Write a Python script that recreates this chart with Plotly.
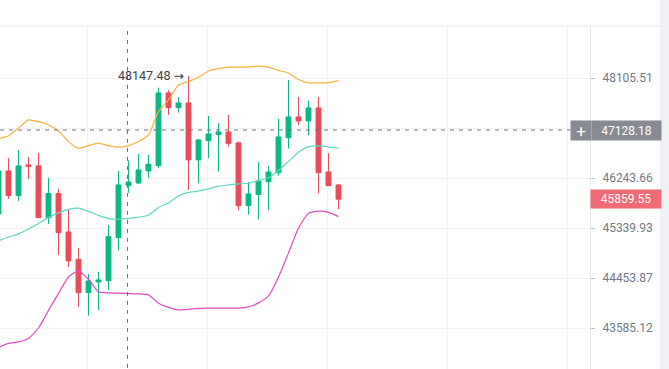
import math
import plotly.graph_objects as go

# ---- data (BTC-like candles, Bollinger bands) ----
opens = [45593, 46373, 45924, 46483, 46465, 45526, 45960, 45269, 44782, 44198, 44384, 44407,
         45168, 46108, 46153, 46373, 46470, 47823, 47547, 47635, 46575, 46931, 47042, 47092,
         46889, 45743, 45942, 46177, 46341, 46986, 47372, 47297, 47541, 46354, 46117]
highs = [46428, 46612, 46760, 46631, 46704, 46244, 46045, 45665, 44985, 44525, 44560, 45394,
         46373, 46566, 46686, 46668, 47923, 47874, 47743, 48147.48, 46962, 47391, 47254, 47410,
         46917, 46171, 46533, 46465, 47335, 48068, 47748, 47679, 47748, 46699, 46135]
lows = [45539, 45864, 45828, 46226, 45520, 45412, 44861, 44649, 43950, 43799, 43898, 44245,
        44938, 45973, 46135, 46249, 46422, 47410, 47453, 46027, 46148, 46607, 46360, 46821,
        45656, 45580, 45493, 45665, 46286, 46784, 47222, 47031, 45963, 46099, 45678]
closes = [46373, 45924, 46465, 46456, 45526, 45960, 45257, 44755, 44198, 44402, 44419, 45186,
          46117, 46171, 46391, 46496, 47823, 47547, 47635, 46575, 46944, 47055, 47092, 46880,
          45743, 45954, 46189, 46354, 46999, 47372, 47297, 47541, 46341, 46104, 45859.55]
boll_upper = [46963, 47023, 47165, 47316, 47284, 47222, 47110, 46913, 46791, 46839, 46883, 46839,
              46810, 46839, 46913, 47036, 47472, 47692, 47974, 48036, 48119, 48240, 48284, 48311,
              48311, 48317, 48330, 48311, 48249, 48201, 48077, 48012, 48012, 48017, 48055]
boll_mid = [45110, 45180, 45234, 45322, 45421, 45530, 45611, 45674, 45696, 45638, 45566, 45508,
            45498, 45512, 45535, 45570, 45710, 45792, 45918, 45982, 46005, 46045, 46094, 46117,
            46135, 46148, 46195, 46249, 46382, 46548, 46717, 46821, 46833, 46815, 46791]
boll_lower = [43253, 43321, 43347, 43406, 43585, 43889, 44185, 44472, 44578, 44428, 44211, 44193,
              44188, 44183, 44176, 44158, 44014, 43941, 43898, 43907, 43924, 43927, 43927, 43927,
              43929, 43950, 44020, 44141, 44472, 44897, 45340, 45606, 45642, 45620, 45544]
price_ticks = [48105.51, 47165.30, 46243.66, 45339.93, 44453.87, 43585.12]
tick_labels = ["48105.51", "", "46243.66", "45339.93", "44453.87", "43585.12"]
high_label = "48147.48"
cross_price = 47128.18
last_price = 45859.55

x = list(range(-1, len(opens) - 1))

UP = "#0BB783"
DOWN = "#E84B59"
AXIS_TXT = "#707A8A"
GRID = "#F1F2F4"

fig = go.Figure()

fig.add_trace(go.Scatter(x=x, y=boll_upper, mode="lines", line=dict(color="#F8B23A", width=1.2, shape="spline", smoothing=0.5), hoverinfo="skip"))
fig.add_trace(go.Scatter(x=x, y=boll_mid, mode="lines", line=dict(color="#5ED8BF", width=1.2, shape="spline", smoothing=0.5), hoverinfo="skip"))
fig.add_trace(go.Scatter(x=x, y=boll_lower, mode="lines", line=dict(color="#E24BC4", width=1.2, shape="spline", smoothing=0.5), hoverinfo="skip"))

fig.add_trace(go.Candlestick(
    x=x, open=opens, high=highs, low=lows, close=closes,
    increasing=dict(line=dict(color=UP, width=1), fillcolor=UP),
    decreasing=dict(line=dict(color=DOWN, width=1), fillcolor=DOWN),
    whiskerwidth=0,
))

# crosshair
xr = [-0.85, 58.15]
cross_x = 11.9
fig.add_trace(go.Scatter(x=[xr[0], 56.15], y=[cross_price, cross_price], mode="lines",
                         line=dict(color="#6B7280", width=1, dash="4px,5px"), hoverinfo="skip"))
fig.add_trace(go.Scatter(x=[cross_x, cross_x], y=[42000, 50000], mode="lines",
                         line=dict(color="#6B7280", width=1, dash="4px,5px"), hoverinfo="skip"))

ylo = math.log10(42885.5)
yhi = math.log10(49103.1)

fig.update_layout(
    width=669, height=369,
    margin=dict(l=0, r=79, t=26, b=0),
    paper_bgcolor="white", plot_bgcolor="white",
    showlegend=False,
    font=dict(family="Roboto", size=12, color=AXIS_TXT),
    xaxis=dict(range=xr, showticklabels=False, tickvals=[7.9, 19.9, 31.9, 43.9, 55.9],
               showgrid=True, gridcolor=GRID, gridwidth=1, zeroline=False,
               rangeslider=dict(visible=False), fixedrange=True, ticks=""),
    yaxis=dict(type="log", range=[ylo, yhi], side="right", tickvals=price_ticks, ticktext=tick_labels,
               showgrid=True, gridcolor=GRID, gridwidth=1, zeroline=False,
               showline=True, linecolor="#E6E8EA", linewidth=1,
               ticks="outside", ticklen=4, tickcolor="#B7BDC6",
               ticklabelstandoff=5,
               tickfont=dict(family="Roboto", size=12, color=AXIS_TXT)),
)

W = 590.0
H = 343.0
shapes = [
    dict(type="line", xref="paper", yref="paper", x0=0, x1=660 / W, y0=1, y1=1,
         line=dict(color="#EAECEF", width=1)),
    dict(type="rect", xref="paper", yref="paper", x0=660 / W, x1=670 / W, y0=-0.01, y1=369 / H,
         fillcolor="#EFF1F5", line=dict(width=0), layer="above"),
]
fig.update_layout(shapes=shapes)

annotations = [
    dict(xref="x", yref="y", x=17.7, y=math.log10(float(high_label)),
         text=high_label + " <span style='font-family:DejaVu Sans'>→</span>",
         showarrow=False, xanchor="right", yanchor="middle",
         font=dict(family="Roboto", size=12.5, color="#3C4048")),
    # crosshair price label
    dict(xref="paper", yref="y", x=591 / W, y=math.log10(cross_price), text=f"{cross_price:.2f}",
         showarrow=False, xanchor="left", yanchor="middle", width=69, height=19, align="center",
         bgcolor="#878A92", borderpad=0, font=dict(family="Roboto", size=12, color="white")),
    dict(xref="paper", yref="y", x=570 / W, y=math.log10(cross_price), text="+",
         showarrow=False, xanchor="left", yanchor="middle", width=20, height=19, align="center",
         bgcolor="#878A92", borderpad=0, font=dict(family="Roboto", size=17, color="white")),
    # last price label
    dict(xref="paper", yref="y", x=590 / W, y=math.log10(last_price), text=f"{last_price:.2f}",
         showarrow=False, xanchor="left", yanchor="middle", width=70, height=18, align="center",
         bgcolor="#EF6B75", borderpad=0, font=dict(family="Roboto", size=12, color="white")),
]
fig.update_layout(annotations=annotations)

fig.write_html("out.html", config={"displayModeBar": False},
               post_script="document.body.style.margin='0';document.body.style.overflow='hidden';")
